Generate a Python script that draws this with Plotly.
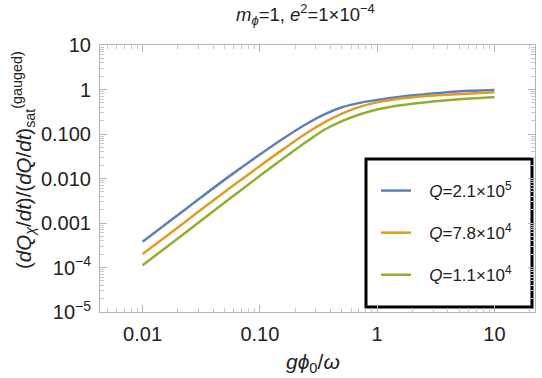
import plotly.graph_objects as go

# x values (g*phi0/omega) at which curve values were read
x_vals = [0.01, 0.01778, 0.03162, 0.05623, 0.1, 0.1585, 0.2512, 0.3548,
          0.5012, 0.7079, 1.0, 1.585, 2.512, 3.981, 6.310, 10.0]

# series values
q1_vals = [3.80e-4, 1.20e-3, 3.80e-3, 0.01175, 0.0347, 0.0794, 0.170, 0.275,
           0.398, 0.501, 0.582, 0.684, 0.776, 0.871, 0.933, 0.975]
q2_vals = [2.00e-4, 6.31e-4, 2.00e-3, 6.24e-3, 0.0191, 0.0457, 0.105, 0.182,
           0.288, 0.407, 0.513, 0.624, 0.708, 0.767, 0.818, 0.865]
q3_vals = [1.12e-4, 3.55e-4, 1.135e-3, 3.63e-3, 0.01148, 0.0282, 0.0676, 0.1245,
           0.195, 0.275, 0.355, 0.442, 0.513, 0.575, 0.627, 0.668]

series_names = ["<i>Q</i>=2.1×10<sup>5</sup>", "<i>Q</i>=7.8×10<sup>4</sup>", "<i>Q</i>=1.1×10<sup>4</sup>"]
series_colors = ["#5E81B5", "#E19C24", "#8FB032"]

x_tickvals = [0.01, 0.1, 1, 10]
x_ticktext = ["0.01", "0.10", "1", "10"]
y_tickvals = [10, 1, 0.1, 0.01, 0.001, 1e-4, 1e-5]
y_ticktext = ["10", "1", "0.100", "0.010", "0.001", "10<sup>−4</sup>", "10<sup>−5</sup>"]

W, H = 542, 378
L, R, T, B = 100, 7, 45, 66
pw, ph = W - L - R, H - T - B

def px(x):
    return (x - L) / pw

def py(y):
    return (H - B - y) / ph

font_family = "Liberation Sans, Arial, sans-serif"
gap = "\u2002\u00a0"

fig = go.Figure()
for i, (vals, name, col) in enumerate(zip([q1_vals, q2_vals, q3_vals], series_names, series_colors)):
    fig.add_trace(go.Scatter(
        x=x_vals, y=vals, mode="lines", name=gap + name,
        line=dict(color=col, width=2.5, shape="spline", smoothing=1.0),
        legendgroup=f"g{i}",
    ))

axis_common = dict(
    type="log", showline=True, linecolor="#b5b5b5", linewidth=1, mirror="ticks",
    ticks="inside", ticklen=7, tickcolor="#b5b5b5", tickwidth=1,
    showgrid=False, zeroline=False,
    tickfont=dict(family=font_family, size=20, color="#222"),
    minor=dict(ticks="inside", ticklen=4, tickcolor="#c8c8c8", dtick="D1", showgrid=False),
)

fig.update_layout(
    width=W, height=H,
    margin=dict(l=L, r=R, t=T, b=B, autoexpand=False),
    paper_bgcolor="white", plot_bgcolor="white",
    font=dict(family=font_family, color="#222"),
    showlegend=True,
    legend=dict(
        x=px(376), y=py(173), xanchor="left", yanchor="top",
        bgcolor="rgba(0,0,0,0)", borderwidth=0,
        font=dict(family=font_family, size=17, color="#222"),
        traceorder="grouped", tracegroupgap=17, itemwidth=30,
    ),
    xaxis=dict(axis_common, range=[-2.363, 1.346], tickmode="array",
               tickvals=x_tickvals, ticktext=x_ticktext, ticklabelstandoff=4),
    yaxis=dict(axis_common, range=[-5, 1], tickmode="array",
               tickvals=y_tickvals, ticktext=y_ticktext, ticklabelstandoff=4),
    shapes=[dict(type="rect", xref="paper", yref="paper",
                 x0=px(366), x1=px(532), y0=py(307), y1=py(159),
                 line=dict(color="black", width=3), fillcolor="white", layer="below")],
    annotations=[
        dict(text="<i>m</i><sub><i>ϕ</i></sub>=1, <i>e</i><sup>2</sup>=1×10<sup>−4</sup>",
             xref="paper", yref="paper", x=px(305), y=py(15), showarrow=False,
             xanchor="center", yanchor="middle",
             font=dict(family=font_family, size=18.5, color="#222")),
        dict(text="<i>gϕ</i><sub>0</sub>/<i>ω</i>",
             xref="paper", yref="paper", x=px(313), y=py(363), showarrow=False,
             xanchor="center", yanchor="middle",
             font=dict(family=font_family, size=21, color="#222")),
        dict(text="(<i>dQ</i><sub><i>χ</i></sub>/<i>dt</i>)/(<i>dQ</i>/<i>dt</i>)<sub>sat</sub><sup>(gauged)</sup>",
             xref="paper", yref="paper", x=px(23), y=py(160), showarrow=False,
             xanchor="center", yanchor="middle", textangle=-90,
             font=dict(family=font_family, size=20.5, color="#222")),
    ],
)

fig.write_html("out.html")
